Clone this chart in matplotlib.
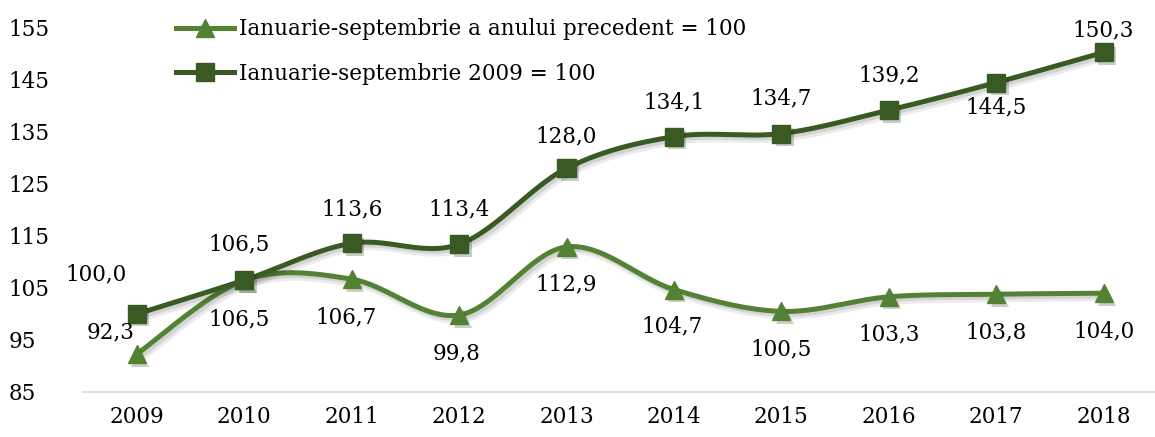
import numpy as np
import matplotlib
matplotlib.use('Agg')
import matplotlib.pyplot as plt
import matplotlib.patheffects as pe
from matplotlib.lines import Line2D

# ── Data ────────────────────────────────────────────────────────────────────
years = ['2009', '2010', '2011', '2012', '2013', '2014', '2015', '2016', '2017', '2018']
prev_year = [92.3, 106.5, 106.7, 99.8, 112.9, 104.7, 100.5, 103.3, 103.8, 104.0]
base_2009 = [100.0, 106.5, 113.6, 113.4, 128.0, 134.1, 134.7, 139.2, 144.5, 150.3]
yticks = [85, 95, 105, 115, 125, 135, 145, 155]

label_prev = 'Ianuarie-septembrie a anului precedent = 100'
label_base = 'Ianuarie-septembrie 2009 = 100'

C_LIGHT = '#548235'
C_DARK = '#3A5A24'
FS = 15.5
LW = 3.6

plt.rcParams['font.family'] = 'DejaVu Serif'


def smooth(x, y, n=30):
    # Excel-like smoothed line: cubic Bezier with Catmull-Rom control points
    x = np.asarray(x, float)
    y = np.asarray(y, float)
    px = np.concatenate([[x[0]], x, [x[-1]]])
    py = np.concatenate([[y[0]], y, [y[-1]]])
    xs, ys = [], []
    t = np.linspace(0, 1, n)
    for i in range(len(x) - 1):
        p0 = np.array([px[i + 1], py[i + 1]])
        p3 = np.array([px[i + 2], py[i + 2]])
        c1 = p0 + (p3 - np.array([px[i], py[i]])) / 6
        c2 = p3 - (np.array([px[i + 3], py[i + 3]]) - p0) / 6
        b = ((1 - t) ** 3)[:, None] * p0 + (3 * (1 - t) ** 2 * t)[:, None] * c1 \
            + (3 * (1 - t) * t ** 2)[:, None] * c2 + (t ** 3)[:, None] * p3
        xs.extend(b[:, 0])
        ys.extend(b[:, 1])
    return np.array(xs), np.array(ys)


fig = plt.figure(figsize=(11.55, 4.37), dpi=100)
ax = fig.add_axes([0.072, 0.103, 0.93, 0.833])

x = np.arange(len(years))
line_shadow = [pe.SimpleLineShadow(offset=(2.5, -2.5), alpha=0.08, linewidth=LW + 3),
               pe.SimpleLineShadow(offset=(2, -2), alpha=0.10), pe.Normal()]
mark_shadow = [pe.SimplePatchShadow(offset=(2.5, -2.5), alpha=0.22), pe.Normal()]

for vals, color, marker, ms in [(prev_year, C_LIGHT, '^', 13), (base_2009, C_DARK, 's', 13)]:
    sx, sy = smooth(x, vals)
    ax.plot(sx, sy, color=color, lw=LW, solid_capstyle='round', path_effects=line_shadow, zorder=2)
    ax.plot(x, vals, ls='none', marker=marker, ms=ms, color=color,
            path_effects=mark_shadow, zorder=3)

fmt = lambda v: f'{v:.1f}'.replace('.', ',')

# label offsets in pixels (dx, dy)
off_base = [(-41, 40), (-5, 36), (0, 34), (0, 35), (0, 32), (0, 34), (0, 35), (0, 35), (0, -25), (0, 22)]
off_prev = [(-26, 22), (-5, -39), (-6, -38), (-3, -38), (0, -38), (-2, -37), (0, -38), (0, -38), (0, -38), (0, -38)]
for i in range(len(years)):
    ax.annotate(fmt(base_2009[i]), (x[i], base_2009[i]), xytext=(off_base[i][0] * 0.72, off_base[i][1] * 0.72),
                textcoords='offset points', ha='center', va='center', fontsize=FS)
    ax.annotate(fmt(prev_year[i]), (x[i], prev_year[i]), xytext=(off_prev[i][0] * 0.72, off_prev[i][1] * 0.72),
                textcoords='offset points', ha='center', va='center', fontsize=FS)

ax.set_xlim(-0.5, len(years) - 0.5)
ax.set_ylim(85, 155)
ax.set_xticks(x)
ax.set_xticklabels(years)
ax.set_yticks(yticks)
ax.tick_params(axis='x', length=0, labelsize=FS, pad=10)
ax.tick_params(axis='y', length=0, labelsize=FS, pad=54)
for s in ['top', 'right', 'left']:
    ax.spines[s].set_visible(False)
ax.spines['bottom'].set_color('#d9d9d9')
ax.spines['bottom'].set_linewidth(1.2)
for lab in ax.get_yticklabels():
    lab.set_horizontalalignment('left')

handles = [Line2D([], [], color=C_LIGHT, lw=LW, marker='^', ms=13),
           Line2D([], [], color=C_DARK, lw=LW, marker='s', ms=13)]
ax.legend(handles, [label_prev, label_base], loc='upper left', bbox_to_anchor=(0.068, 1.08),
          frameon=False, fontsize=FS, handlelength=2.7, handletextpad=0.25, labelspacing=1.05)

fig.savefig('out.png', dpi=100)
